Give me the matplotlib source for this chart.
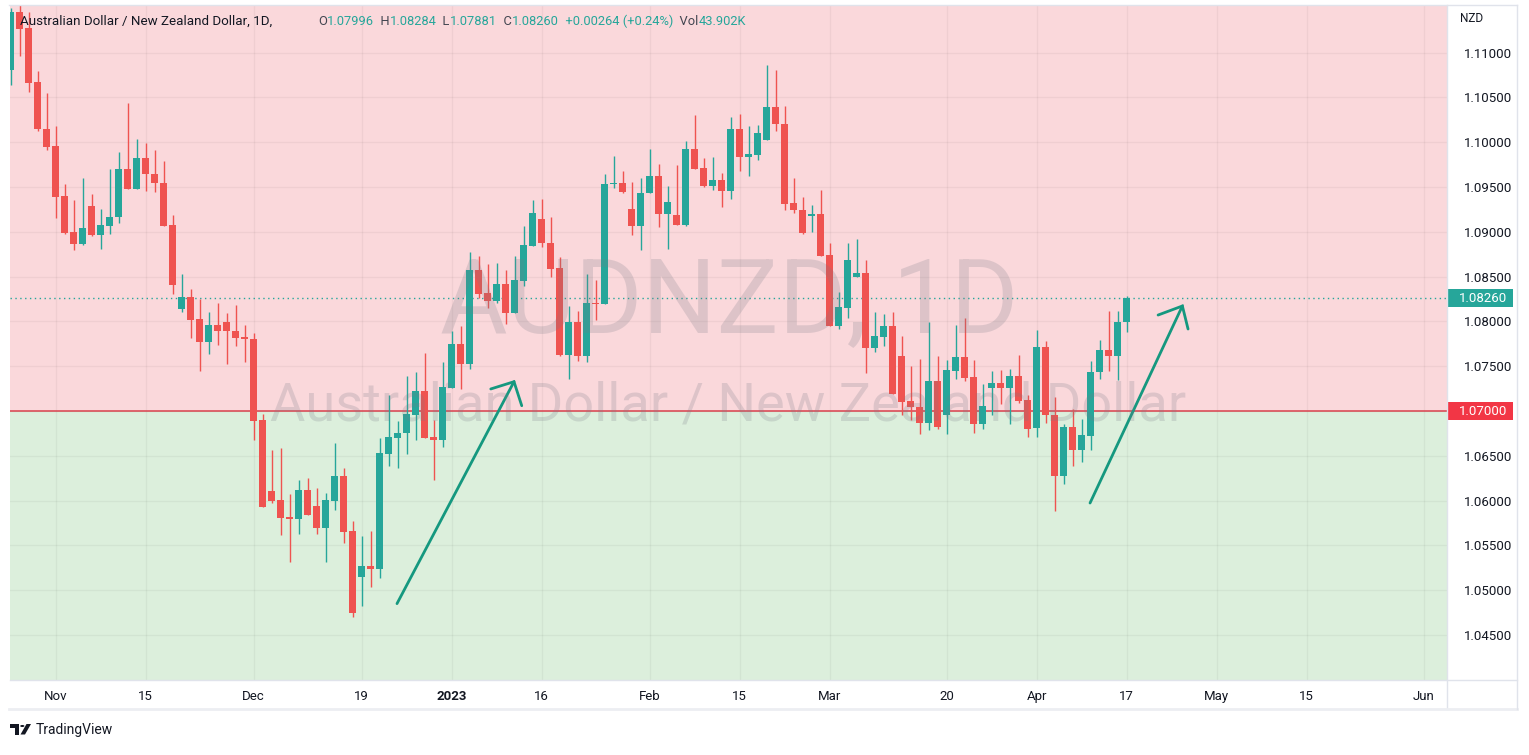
import matplotlib
matplotlib.use('Agg')
import matplotlib.pyplot as plt
import numpy as np
import pandas as pd
from matplotlib.patches import Rectangle, Polygon, Circle
from matplotlib.lines import Line2D
from matplotlib.text import Annotation
from matplotlib.transforms import blended_transform_factory

W, H, DPI = 1529, 755, 100

# ---------------- data ----------------
start_date = '2022-10-25'
opens = [1.1081, 1.1145, 1.1127, 1.1067, 1.1015, 1.0996, 1.0940, 1.0900, 1.0886, 1.0929,
         1.0896, 1.0907, 1.0916, 1.0970, 1.0948, 1.0982, 1.0965, 1.0955, 1.0908, 1.0814,
         1.0827, 1.0803, 1.0777, 1.0796, 1.0799, 1.0789, 1.0783, 1.0780, 1.0690, 1.0611,
         1.0601, 1.0582, 1.0579, 1.0612, 1.0594, 1.0569, 1.0600, 1.0627, 1.0566, 1.0515,
         1.0527, 1.0524, 1.0652, 1.0670, 1.0675, 1.0696, 1.0722, 1.0671, 1.0668, 1.0726,
         1.0775, 1.0752, 1.0857, 1.0832, 1.0823, 1.0842, 1.0809, 1.0845, 1.0884, 1.0914,
         1.0887, 1.0860, 1.0763, 1.0799, 1.0761, 1.0821, 1.0819, 1.0953, 1.0954, 1.0925,
         1.0906, 1.0943, 1.0962, 1.0920, 1.0919, 1.0908, 1.0992, 1.0971, 1.0951, 1.0958,
         1.0945, 1.1015, 1.0984, 1.0986, 1.1002, 1.1039, 1.1020, 1.0932, 1.0924, 1.0918,
         1.0920, 1.0874, 1.0795, 1.0815, 1.0850, 1.0854, 1.0770, 1.0783, 1.0795, 1.0761,
         1.0711, 1.0704, 1.0687, 1.0733, 1.0696, 1.0745, 1.0760, 1.0738, 1.0686, 1.0726,
         1.0731, 1.0726, 1.0739, 1.0712, 1.0681, 1.0771, 1.0696, 1.0628, 1.0682, 1.0656,
         1.0672, 1.0743, 1.0768, 1.0761, 1.07996]
highs = [1.1150, 1.1154, 1.1145, 1.1079, 1.1055, 1.1018, 1.0953, 1.0936, 1.0960, 1.0942,
         1.0925, 1.0970, 1.0989, 1.1044, 1.1004, 1.0999, 1.0991, 1.0979, 1.0919, 1.0853,
         1.0836, 1.0825, 1.0810, 1.0821, 1.0809, 1.0818, 1.0796, 1.0787, 1.0697, 1.0656,
         1.0659, 1.0607, 1.0623, 1.0625, 1.0614, 1.0608, 1.0664, 1.0636, 1.0577, 1.0561,
         1.0566, 1.0670, 1.0718, 1.0689, 1.0739, 1.0744, 1.0765, 1.0690, 1.0755, 1.0789,
         1.0795, 1.0877, 1.0873, 1.0864, 1.0865, 1.0857, 1.0873, 1.0906, 1.0936, 1.0937,
         1.0917, 1.0872, 1.0817, 1.0812, 1.0853, 1.0846, 1.0965, 1.0985, 1.0968, 1.0956,
         1.0960, 1.0992, 1.0976, 1.0951, 1.0975, 1.1001, 1.1030, 1.0982, 1.0983, 1.0966,
         1.1028, 1.1031, 1.1018, 1.1019, 1.1086, 1.1081, 1.1040, 1.0960, 1.0939, 1.0930,
         1.0947, 1.0888, 1.0833, 1.0888, 1.0892, 1.0869, 1.0810, 1.0808, 1.0810, 1.0784,
         1.0750, 1.0758, 1.0799, 1.0761, 1.0757, 1.0796, 1.0804, 1.0757, 1.0730, 1.0745,
         1.0746, 1.0747, 1.0763, 1.0718, 1.0790, 1.0778, 1.0716, 1.0685, 1.0702, 1.0691,
         1.0756, 1.0779, 1.0812, 1.0812, 1.08284]
lows = [1.1064, 1.1096, 1.1056, 1.1012, 1.0991, 1.0915, 1.0898, 1.0880, 1.0885, 1.0895,
        1.0881, 1.0897, 1.0910, 1.0948, 1.0948, 1.0946, 1.0944, 1.0907, 1.0831, 1.0811,
        1.0782, 1.0745, 1.0764, 1.0774, 1.0752, 1.0772, 1.0755, 1.0668, 1.0593, 1.0597,
        1.0562, 1.0532, 1.0563, 1.0584, 1.0563, 1.0531, 1.0590, 1.0553, 1.0470, 1.0482,
        1.0504, 1.0514, 1.0639, 1.0636, 1.0652, 1.0668, 1.0670, 1.0623, 1.0660, 1.0726,
        1.0725, 1.0747, 1.0826, 1.0815, 1.0821, 1.0797, 1.0809, 1.0840, 1.0884, 1.0883,
        1.0849, 1.0761, 1.0736, 1.0756, 1.0755, 1.0802, 1.0819, 1.0949, 1.0943, 1.0896,
        1.0880, 1.0943, 1.0905, 1.0881, 1.0908, 1.0906, 1.0970, 1.0950, 1.0947, 1.0928,
        1.0937, 1.0968, 1.0962, 1.0980, 1.1002, 1.1013, 1.0924, 1.0921, 1.0898, 1.0900,
        1.0873, 1.0795, 1.0792, 1.0804, 1.0850, 1.0742, 1.0766, 1.0772, 1.0719, 1.0696,
        1.0690, 1.0674, 1.0679, 1.0680, 1.0674, 1.0736, 1.0734, 1.0676, 1.0680, 1.0695,
        1.0708, 1.0686, 1.0709, 1.0671, 1.0671, 1.0687, 1.0588, 1.0618, 1.0639, 1.0643,
        1.0657, 1.0736, 1.0745, 1.0735, 1.07881]
closes = [1.1145, 1.1126, 1.1066, 1.1015, 1.0995, 1.0939, 1.0899, 1.0886, 1.0904, 1.0896,
          1.0908, 1.0917, 1.0970, 1.0948, 1.0982, 1.0964, 1.0954, 1.0907, 1.0841, 1.0827,
          1.0802, 1.0777, 1.0796, 1.0789, 1.0789, 1.0782, 1.0780, 1.0689, 1.0593, 1.0600,
          1.0581, 1.0579, 1.0612, 1.0584, 1.0569, 1.0601, 1.0627, 1.0565, 1.0475, 1.0527,
          1.0524, 1.0653, 1.0671, 1.0675, 1.0697, 1.0722, 1.0670, 1.0668, 1.0727, 1.0775,
          1.0752, 1.0857, 1.0831, 1.0823, 1.0842, 1.0809, 1.0846, 1.0885, 1.0921, 1.0887,
          1.0859, 1.0763, 1.0799, 1.0761, 1.0821, 1.0819, 1.0953, 1.0954, 1.0944, 1.0906,
          1.0943, 1.0962, 1.0920, 1.0933, 1.0908, 1.0992, 1.0970, 1.0951, 1.0958, 1.0945,
          1.1015, 1.0984, 1.0987, 1.1010, 1.1039, 1.1020, 1.0931, 1.0924, 1.0899, 1.0920,
          1.0873, 1.0795, 1.0816, 1.0869, 1.0854, 1.0770, 1.0784, 1.0795, 1.0719, 1.0710,
          1.0704, 1.0687, 1.0733, 1.0682, 1.0746, 1.0760, 1.0737, 1.0686, 1.0706, 1.0731,
          1.0726, 1.0739, 1.0711, 1.0680, 1.0771, 1.0695, 1.0628, 1.0682, 1.0656, 1.0673,
          1.0744, 1.0768, 1.0761, 1.0799, 1.0826]

tick_dates = ['2022-11-01', '2022-11-15', '2022-12-01', '2022-12-19', '2023-01-02',
              '2023-01-16', '2023-02-01', '2023-02-15', '2023-03-01', '2023-03-20',
              '2023-04-03', '2023-04-17', '2023-05-01', '2023-05-15', '2023-06-01']
tick_labels = ['Nov', '15', 'Dec', '19', '2023', '16', 'Feb', '15', 'Mar', '20',
               'Apr', '17', 'May', '15', 'Jun']
price_ticks = [1.045, 1.050, 1.055, 1.060, 1.065, 1.070, 1.075, 1.080,
               1.085, 1.090, 1.095, 1.100, 1.105, 1.110]
level_price = 1.07
last_price = 1.0826

# drawn arrows: tail, tip, head-left, head-right as (date, bar offset, price)
arrow1_dates = ['2022-12-23', '2023-01-11', '2023-01-06', '2023-01-11']
arrow1_frac = [-0.06, -0.06, 0.36, 0.8]
arrow1_prices = [1.0485, 1.07327, 1.07246, 1.07059]
arrow2_dates = ['2023-04-11', '2023-04-25', '2023-04-20', '2023-04-25']
arrow2_frac = [-0.06, 0.2, 0.5, 0.83]
arrow2_prices = [1.05973, 1.08172, 1.08071, 1.07915]

# ---------------- style ----------------
UP = '#26a69a'
DOWN = '#ef5350'
PINK = '#fad8db'
GREEN_BG = '#dcefdc'
TEXT = '#131722'
LEGEND_LBL = '#434651'
ARROW = '#15987f'

timeline = pd.bdate_range(start_date, '2023-06-30')
pos = {d: i for i, d in enumerate(timeline)}
dates = timeline[:len(opens)]
xs = np.array([pos[d] for d in dates], dtype=float)


def px_x(p):
    return p / W


def px_y(p):
    return 1 - p / H


fig = plt.figure(figsize=(W / DPI, H / DPI), dpi=DPI)
fig.patch.set_facecolor('white')

ax = fig.add_axes([px_x(10), px_y(680), (1447 - 10) / W, (680 - 5) / H])
ax.set_xlim(-0.056, 159.6)
ax.set_ylim(1.039978, 1.115313)
for s in ax.spines.values():
    s.set_visible(False)

ax.axhspan(level_price, 2, color=PINK, zorder=0, lw=0)
ax.axhspan(0, level_price, color=GREEN_BG, zorder=0, lw=0)

tick_pos = [pos[pd.Timestamp(d)] for d in tick_dates]
for tp in tick_pos:
    ax.axvline(tp, color='black', alpha=0.045, lw=1, zorder=1)
for pt in price_ticks:
    ax.axhline(pt, color='black', alpha=0.045, lw=1, zorder=1)

# watermark
fig.text(px_x(729), px_y(332), 'AUDNZD, 1D', ha='center', va='baseline',
         fontsize=74.5, family='Roboto', color='#787b86', alpha=0.22, zorder=2)
fig.text(px_x(728), px_y(421), 'Australian Dollar / New Zealand Dollar', ha='center',
         va='baseline', fontsize=39, family='Roboto', color='#787b86', alpha=0.22, zorder=2)

# level line and last price line
ax.axhline(level_price, color='#d9424e', lw=1.1, zorder=3)
ax.axhline(last_price, color=UP, lw=1.0, ls=(0, (1, 2.5)), zorder=3)

# candles
o = np.array(opens); h = np.array(highs); l = np.array(lows); c = np.array(closes)
cols = np.where(c >= o, UP, DOWN)
ax.vlines(xs, l, h, colors=cols, lw=1.0, zorder=4)
body_h = np.maximum(np.abs(c - o), 0.00012)
ax.bar(xs, body_h, bottom=np.minimum(o, c), width=0.74, color=cols, lw=0, zorder=5)


# arrows
def draw_arrow(dl, fr, pl):
    px = [pos[pd.Timestamp(d)] + f for d, f in zip(dl, fr)]
    ax.plot([px[0], px[1]], [pl[0], pl[1]], color=ARROW, lw=2.0,
            solid_capstyle='round', zorder=6)
    ax.plot([px[2], px[1], px[3]], [pl[2], pl[1], pl[3]], color=ARROW, lw=2.0,
            solid_capstyle='round', solid_joinstyle='miter', zorder=6)


draw_arrow(arrow1_dates, arrow1_frac, arrow1_prices)
draw_arrow(arrow2_dates, arrow2_frac, arrow2_prices)

# axis ticks
ax.set_xticks(tick_pos)
ax.set_xticklabels(tick_labels, fontsize=9.5, family='Roboto', color=TEXT)
for lab in ax.get_xticklabels():
    if lab.get_text() == '2023':
        lab.set_fontweight('bold')
ax.tick_params(axis='x', length=0, pad=7)
ax.yaxis.tick_right()
ax.set_yticks(price_ticks)
# the 1.07000 tick is covered by the level price box (as in TradingView)
ax.set_yticklabels(['' if abs(p - level_price) < 1e-9 else f'{p:.5f}' for p in price_ticks],
                   fontsize=9.5, family='Roboto', color=TEXT)
ax.tick_params(axis='y', length=0, pad=12)

# right axis price boxes
bt = blended_transform_factory(fig.transFigure, ax.transData)
half = 9.0 / 8960.0
for price, colr in [(last_price, UP), (level_price, '#f23645')]:
    ax.add_patch(Rectangle((px_x(1448), price - half), (1513 - 1448) / W, 2 * half,
                           transform=bt, facecolor=colr, edgecolor='none',
                           clip_on=False, zorder=7))
    ax.text(px_x(1483), price, f'{price:.5f}', transform=bt, ha='center', va='center',
            color='white', fontsize=9.5, family='Roboto', zorder=8, clip_on=False)

fig.text(px_x(1460), px_y(18), 'NZD', ha='left', va='center', fontsize=8.5,
         family='Roboto', color=TEXT)

# frame lines
border = '#e0e3eb'
fig.add_artist(Line2D([px_x(1447), px_x(1447)], [px_y(5), px_y(709)], color=border, lw=1))
fig.add_artist(Line2D([px_x(10), px_x(1517)], [px_y(680), px_y(680)], color=border, lw=1))
fig.add_artist(Line2D([px_x(9), px_x(1517)], [px_y(709), px_y(709)], color='#eceef2', lw=2))
fig.add_artist(Line2D([px_x(1517), px_x(1517)], [px_y(5), px_y(709)], color=border, lw=1))
fig.add_artist(Line2D([px_x(9), px_x(1517)], [px_y(4.5), px_y(4.5)], color=border, lw=1))

# header legend
fig.text(px_x(20), px_y(25), 'Australian Dollar / New Zealand Dollar, 1D,', ha='left',
         va='baseline', fontsize=9.6, family='Roboto', color=TEXT, zorder=10)
parts = [('O', LEGEND_LBL), ('1.07996', UP), ('  H', LEGEND_LBL), ('1.08284', UP),
         ('  L', LEGEND_LBL), ('1.07881', UP), ('  C', LEGEND_LBL), ('1.08260', UP),
         ('  +0.00264 (+0.24%)', UP), ('  Vol', LEGEND_LBL), ('43.902K', UP)]
HDR_FS = 9.3
cur = fig.text(px_x(318), px_y(25), parts[0][0], ha='left', va='baseline', fontsize=HDR_FS,
               family='Roboto', color=parts[0][1], zorder=10)
for s, colr in parts[1:]:
    cur = fig.add_artist(Annotation(s, xy=(1, 0), xycoords=cur, va='bottom', ha='left',
                                    fontsize=HDR_FS, family='Roboto', color=colr, zorder=10))

# TradingView logo (drawn shapes) + wordmark
ft = fig.transFigure
logo_col = '#131722'
fig.add_artist(Polygon([(px_x(10), px_y(724)), (px_x(19), px_y(724)), (px_x(19), px_y(734.5)),
                        (px_x(15), px_y(734.5)), (px_x(15), px_y(727.5)), (px_x(10), px_y(727.5))],
                       closed=True, transform=ft, facecolor=logo_col, edgecolor='none'))
fig.add_artist(Circle((px_x(22.3), px_y(726)), 2.1 / W, transform=ft, facecolor=logo_col,
                      edgecolor='none'))
fig.add_artist(Polygon([(px_x(20.5), px_y(734.5)), (px_x(26.5), px_y(724)), (px_x(31), px_y(724)),
                        (px_x(25), px_y(734.5))], closed=True, transform=ft,
                       facecolor=logo_col, edgecolor='none'))
fig.text(px_x(36), px_y(730), 'TradingView', ha='left', va='center', fontsize=10,
         family='Roboto', color=TEXT)

fig.savefig('out.png', dpi=DPI, facecolor='white')
